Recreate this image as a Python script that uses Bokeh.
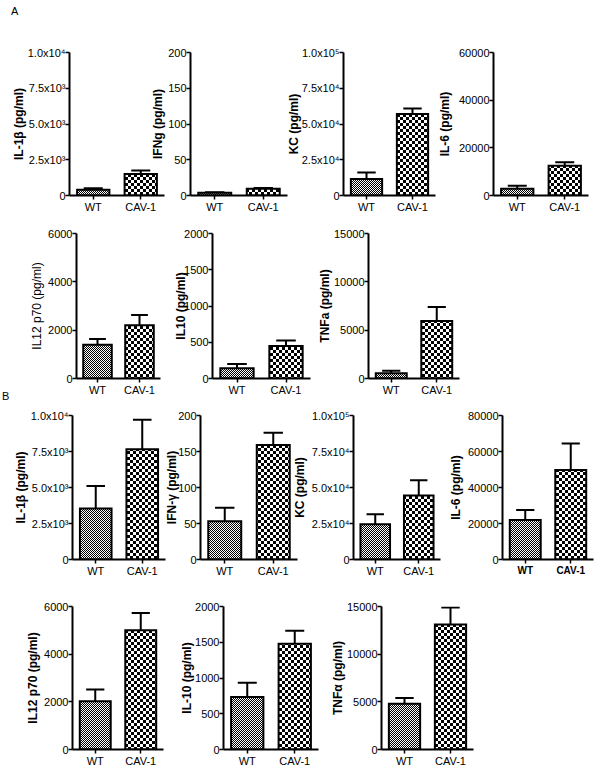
from bokeh.plotting import figure
from bokeh.models import Range1d, FixedTicker, CanvasTexture, Div
from bokeh.layouts import row, column
from bokeh.embed import file_html
from bokeh.resources import INLINE

groups = ["WT", "CAV-1"]

# ---------------- Panel A data ----------------
a_ylabels = ["IL-1β (pg/ml)", "IFNg (pg/ml)", "KC (pg/ml)", "IL-6 (pg/ml)",
             "IL12 p70 (pg/ml)", "IL10 (pg/ml)", "TNFa (pg/ml)"]
a_wt_mean = [400, 4, 11500, 2800, 1400, 140, 550]
a_wt_sem = [100, 0.6, 4500, 1300, 230, 60, 250]
a_cav_mean = [1500, 9.5, 57000, 12500, 2200, 450, 5950]
a_cav_sem = [250, 1, 3800, 1500, 430, 75, 1450]
a_ymax = [10000, 200, 100000, 60000, 6000, 2000, 15000]
a_ticks = [[0, 2500, 5000, 7500, 10000], [0, 50, 100, 150, 200],
           [0, 25000, 50000, 75000, 100000], [0, 20000, 40000, 60000],
           [0, 2000, 4000, 6000], [0, 500, 1000, 1500, 2000], [0, 5000, 10000, 15000]]
a_tick_labels = [["0", "2.5x10³", "5.0x10³", "7.5x10³", "1.0x10⁴"],
                 ["0", "50", "100", "150", "200"],
                 ["0", "2.5x10⁴", "5.0x10⁴", "7.5x10⁴", "1.0x10⁵"],
                 ["0", "20000", "40000", "60000"],
                 ["0", "2000", "4000", "6000"],
                 ["0", "500", "1000", "1500", "2000"],
                 ["0", "5000", "10000", "15000"]]

# ---------------- Panel B data ----------------
b_ylabels = ["IL-1β (pg/ml)", "IFN-γ (pg/ml)", "KC (pg/ml)", "IL-6 (pg/ml)",
             "IL12 p70 (pg/ml)", "IL-10 (pg/ml)", "TNFα (pg/ml)"]
b_wt_mean = [3550, 53, 24500, 22000, 2020, 735, 4800]
b_wt_sem = [1550, 19, 7000, 5500, 500, 200, 600]
b_cav_mean = [7650, 159, 44500, 49700, 5000, 1480, 13100]
b_cav_sem = [2050, 17, 10500, 14800, 730, 180, 1800]
b_ymax = [10000, 200, 100000, 80000, 6000, 2000, 15000]
b_ticks = [[0, 2500, 5000, 7500, 10000], [0, 50, 100, 150, 200],
           [0, 25000, 50000, 75000, 100000], [0, 20000, 40000, 60000, 80000],
           [0, 2000, 4000, 6000], [0, 500, 1000, 1500, 2000], [0, 5000, 10000, 15000]]
b_tick_labels = [["0", "2.5x10³", "5.0x10³", "7.5x10³", "1.0x10⁴"],
                 ["0", "50", "100", "150", "200"],
                 ["0", "2.5x10⁴", "5.0x10⁴", "7.5x10⁴", "1.0x10⁵"],
                 ["0", "20000", "40000", "60000", "80000"],
                 ["0", "2000", "4000", "6000"],
                 ["0", "500", "1000", "1500", "2000"],
                 ["0", "5000", "10000", "15000"]]

# ---------------- layout geometry (page pixels) ----------------
# row: (row_top, row_height, [(fig_left, axis_x, x_end, frame_top, baseline, label_standoff)])
ROWS = [
    (0, 223, [(8, 68, 164, 49, 195, -1), (147, 190, 287, 49, 195, 0),
              (283, 341, 435, 52, 197, -2), (434, 493, 588, 52, 197, 4)]),
    (218, 188, [(26, 76, 160, 233, 380, 1), (171, 212, 310, 233, 378, -7),
                (314, 365, 459, 233, 378, -1)]),
    (400, 188, [(10, 70, 165, 415, 562, 0), (162, 199, 297, 413, 559, -4),
                (289, 352, 440, 411, 559, 2), (445, 500, 593, 414, 559, 2)]),
    (588, 181, [(23, 71, 163, 604, 751, 1), (177, 223, 318, 606, 751, -2),
                (327, 380, 473, 604, 749, -1)]),
]

FONT = "Liberation Sans"
wt_tex = CanvasTexture(code="""
const c = ctx.canvas;
c.width = 2; c.height = 2;
ctx.fillStyle = "#000000";
ctx.fillRect(0, 0, 1, 1);
ctx.fillRect(1, 1, 1, 1);
""")
cav_tex = CanvasTexture(code="""
const c = ctx.canvas;
c.width = 6; c.height = 6;
ctx.fillStyle = "#000000";
ctx.fillRect(0, 0, 3, 3);
ctx.fillRect(3, 3, 3, 3);
""")


def make_panel(ylabel, wt_m, wt_s, cav_m, cav_s, ymax, ticks, tlabels, geom,
               row_top, row_h, label_bold=True, x_bold=False):
    fl, ax, xe, top, base, ls = geom
    w = xe - fl + 2
    p = figure(width=w, height=row_h, x_range=Range1d(0, len(groups)),
               y_range=Range1d(0, ymax), output_backend="svg", toolbar_location=None,
               min_border_left=ax - fl, min_border_right=2,
               min_border_top=top - row_top, min_border_bottom=row_top + row_h - base,
               background_fill_color=None, border_fill_color=None,
               outline_line_color=None)
    p.xgrid.visible = False
    p.ygrid.visible = False

    xs = [i + 0.5 for i in range(len(groups))]
    means = [wt_m, cav_m]
    sems = [wt_s, cav_s]
    pats = [("dot", wt_tex), ("cross", cav_tex)]
    bw = 0.68
    cap = 0.2
    for x, m, s, (pname, tex) in zip(xs, means, sems, pats):
        p.segment(x0=[x], y0=[m], x1=[x], y1=[m + s], line_color="black", line_width=2)
        p.segment(x0=[x - cap], y0=[m + s], x1=[x + cap], y1=[m + s],
                  line_color="black", line_width=2)
        p.vbar(x=[x], top=[m], bottom=0, width=bw, fill_color="white",
               line_color="black", line_width=2, line_join="miter",
               hatch_pattern=pname, hatch_extra={pname: tex},
               hatch_color="black", hatch_scale=6)

    yax = p.yaxis[0]
    xax = p.xaxis[0]
    for a in (xax, yax):
        a.axis_line_width = 2
        a.axis_line_color = "black"
        a.major_tick_line_width = 1.5
        a.major_tick_line_color = "black"
        a.major_tick_out = 4
        a.major_tick_in = 0
        a.minor_tick_line_color = None
        a.major_label_text_font = FONT
        a.major_label_text_font_size = "11px"
        a.major_label_text_color = "black"
    yax.ticker = FixedTicker(ticks=ticks)
    yax.major_label_overrides = {t: l for t, l in zip(ticks, tlabels)}
    yax.major_label_standoff = 0
    yax.axis_label = ylabel
    yax.axis_label_text_font = FONT
    yax.axis_label_text_font_size = "12px"
    yax.axis_label_text_font_style = "bold" if label_bold else "normal"
    yax.axis_label_text_color = "black"
    yax.axis_label_standoff = ls

    xax.axis_label = None
    xax.ticker = FixedTicker(ticks=xs)
    xax.major_label_overrides = {x: g for x, g in zip(xs, groups)}
    xax.major_label_standoff = 1
    if x_bold:
        xax.major_label_text_font_style = "bold"
        xax.major_label_text_font_size = "10px"
    return p


panels_data = []
for i in range(7):
    panels_data.append((a_ylabels[i], a_wt_mean[i], a_wt_sem[i], a_cav_mean[i], a_cav_sem[i],
                        a_ymax[i], a_ticks[i], a_tick_labels[i]))
for i in range(7):
    panels_data.append((b_ylabels[i], b_wt_mean[i], b_wt_sem[i], b_cav_mean[i], b_cav_sem[i],
                        b_ymax[i], b_ticks[i], b_tick_labels[i]))

rows = []
k = 0
prev_bottom = 0
for (row_top, row_h, geoms) in ROWS:
    children = []
    prev_right = 0
    for g in geoms:
        d = panels_data[k]
        p = make_panel(*d, g, row_top, row_h,
                       label_bold=(k != 4), x_bold=(k == 10))
        p.margin = (0, 0, 0, g[0] - prev_right)
        prev_right = g[2] + 2
        children.append(p)
        k += 1
    rows.append(row(children=children, spacing=0,
                    margin=(row_top - prev_bottom, 0, 0, 0)))
    prev_bottom = row_top + row_h

letter_style = {"font-family": FONT, "font-size": "11px", "line-height": "14px",
                "color": "black"}
div_a = Div(text="A", width=14, height=14, margin=(4, 0, -18, 11), styles=letter_style)
# "B" sits in the gap between rows A2 (ends at 406) and B1 (starts at 400)
div_b = Div(text="B", width=14, height=14, margin=(-17, 0, -3, 2), styles=letter_style)
rows[2].margin = (0, 0, 0, 0)

layout = column(children=[div_a, rows[0], rows[1], div_b, rows[2], rows[3]], spacing=0)
open("out.html", "w").write(file_html(layout, INLINE))
